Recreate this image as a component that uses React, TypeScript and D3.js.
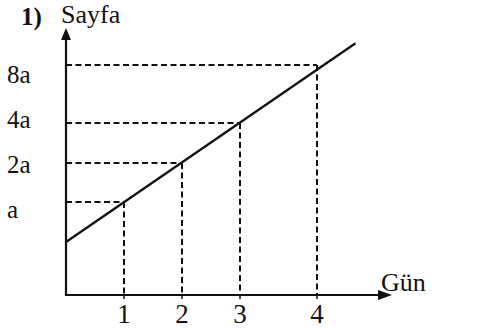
import * as d3 from "d3";

// values (pages in units of "a")
const days = [1, 2, 3, 4];
const pages = [1, 2, 4, 8];
const pageLabels = ["a", "2a", "4a", "8a"];
const dayLabels = ["1", "2", "3", "4"];
// the straight line: starts on the Sayfa axis at a/2 and runs a bit past day 4
const lineDays = [0, 4.5];
const linePages = [0.5, 9.5];

const W = 492;
const H = 329;
const font = "'Liberation Serif', 'Times New Roman', serif";

export default function App() {
  const originX = 66;
  const originY = 295;

  // the drawing is not to scale, so the scales are piecewise
  const x = d3.scaleLinear().domain([0, 1, 2, 3, 4]).range([originX, 124, 182, 240, 317]);
  const y = d3.scaleLinear().domain([0.5, 1, 2, 4, 8]).range([242, 202, 163, 123, 65]);
  const labelY = d3.scalePoint<string>().domain(pageLabels).range([218, 83]);

  const lineGen = d3
    .line<number>()
    .x((d) => x(d))
    .y((_, i) => y(linePages[i]));

  const dash = "6,3.5";

  return (
    <svg
      width={W}
      height={H}
      style={{ position: "absolute", left: 0, top: 0, background: "#fff" }}
    >
      {/* axes */}
      <line x1={originX} y1={originY + 1} x2={originX} y2={36} stroke="#111" strokeWidth={2.2} />
      <path d={`M${originX},28 L${originX - 5},40 L${originX + 5},40 Z`} fill="#111" />
      <line x1={originX - 1} y1={originY} x2={384} y2={originY} stroke="#111" strokeWidth={2.2} />
      <path d={`M392,${originY} L378,${originY - 5} L378,${originY + 5} Z`} fill="#111" />

      {/* dashed guides */}
      {days.map((d, i) => (
        <g key={d}>
          <line
            x1={originX}
            x2={x(d)}
            y1={y(pages[i])}
            y2={y(pages[i])}
            stroke="#111"
            strokeWidth={2}
            strokeDasharray={dash}
          />
          <line
            x1={x(d)}
            x2={x(d)}
            y1={y(pages[i])}
            y2={originY}
            stroke="#111"
            strokeWidth={2}
            strokeDasharray={dash}
          />
          <line x1={x(d)} x2={x(d)} y1={originY} y2={originY + 4} stroke="#111" strokeWidth={1.5} />
        </g>
      ))}

      {/* the line */}
      <path d={lineGen(lineDays) ?? ""} fill="none" stroke="#111" strokeWidth={2.3} />

      {/* labels */}
      <text x={21} y={25} fontFamily={font} fontSize={25} fontWeight="bold" fill="#111">
        1)
      </text>
      <text x={61} y={23} fontFamily={font} fontSize={26} fill="#111">
        Sayfa
      </text>
      {pageLabels.map((l) => (
        <text key={l} x={7} y={labelY(l)} fontFamily={font} fontSize={25} fill="#111">
          {l}
        </text>
      ))}
      {days.map((d, i) => (
        <text
          key={d}
          x={x(d)}
          y={323}
          textAnchor="middle"
          fontFamily={font}
          fontSize={27}
          fill="#111"
        >
          {dayLabels[i]}
        </text>
      ))}
      <text x={381} y={291} fontFamily={font} fontSize={26} fill="#111">
        Gün
      </text>
    </svg>
  );
}
